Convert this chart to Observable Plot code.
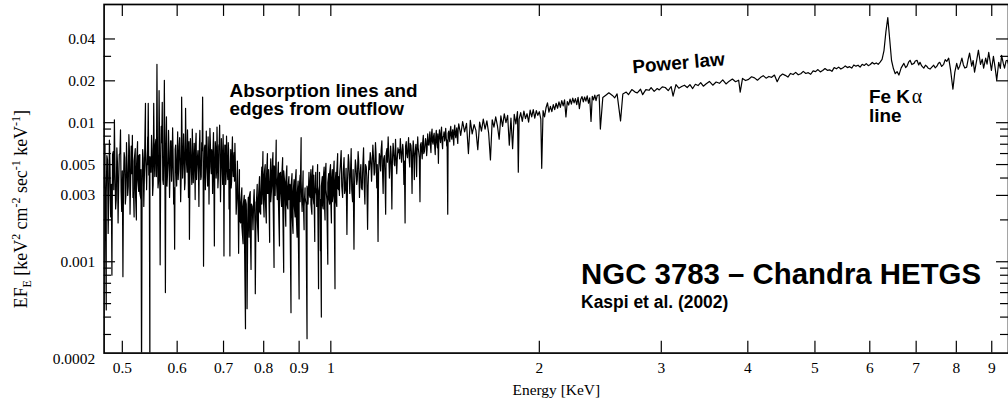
<!DOCTYPE html>
<html><head><meta charset="utf-8">
<script src="https://cdn.jsdelivr.net/npm/d3@7"></script>
<script src="https://cdn.jsdelivr.net/npm/@observablehq/plot@0.6"></script>
<style>
html,body{margin:0;padding:0;background:#fff;overflow:hidden;width:1008px;height:402px}
</style></head><body><div id="chart"></div>
<script>
// Spectrum: [energy keV, EF_E in units of 1e-3 keV^2 cm^-2 s^-1 keV^-1]
const softBand = [
[.471,3.4],[.472,6.9],[.474,0.45],[.475,5.8],[.477,1.6],[.479,7.5],[.481,2.1],[.483,0.8],[.485,6.2],[.487,10.5],[.489,2.4],[.491,6.6],[.493,1.9],[.495,5.9],[.497,8.9],[.499,2.3],[.501,0.78],[.503,6.1],[.505,2.6],[.507,7.2],[.509,3.0],[.511,8.2],[.513,2.2],[.515,6.8],[.517,8.1],[.519,3.1],[.520,2.1],[.522,6.5],[.524,2.0],[.526,7.3],[.528,3.2],[.530,5.9],[.532,2.8],[.533,0.15],[.535,6.4],[.537,2.5],[.539,8.0],[.540,13.8],[.542,3.6],[.544,7.9],[.545,13.8],[.547,4.2],[.548,0.12],
[.549,5.2],[.551,8.1],[.553,3.0],[.555,13.8],[.557,4.1],[.559,7.6],[.561,26.3],[.563,3.4],[.565,17.0],[.567,0.95],[.569,9.4],[.571,14.0],[.573,3.6],[.575,20.2],[.577,0.6],[.579,11.0],[.581,4.2],[.583,8.8],[.585,2.9],[.587,7.4],[.589,3.8],[.591,9.2],[.593,2.6],[.595,1.23],[.597,6.9],[.599,3.5],[.601,8.6],[.603,4.6],[.605,7.8],[.607,2.7],[.609,15.3],[.611,4.0],[.613,8.3],[.615,3.3],[.617,12.7],[.619,5.1],[.621,8.9],[.623,2.9],[.625,1.45],[.627,7.7],[.629,4.4],[.631,9.0],[.633,3.7],[.635,7.1],[.637,2.8],[.639,8.4],[.641,4.9],[.643,6.3],[.645,2.5],[.647,8.8],[.649,3.9],[.651,7.2],[.653,15.3],[.655,0.93],[.657,6.6],[.659,3.3],[.661,8.7],[.663,4.5],[.665,7.9],[.667,2.6],[.669,9.1],[.671,4.8],[.673,6.4],[.675,3.1],[.677,8.5],[.679,1.3],[.681,7.3],[.683,4.0],[.685,9.3],[.687,3.4],[.689,6.8],[.691,9.6],[.693,2.7],[.695,7.7],[.697,4.6],[.699,8.2],[.701,1.1],[.703,6.9],[.705,3.6],[.707,8.0],[.709,4.4],[.711,7.2],[.713,2.4],[.715,1.1],[.717,6.4],[.719,3.8],[.721,7.9],[.723,4.1],[.725,6.1]
];
const softCore = [
[.472,4.6],[.474,3.1],[.476,5.4],[.478,2.9],[.480,4.8],[.482,3.6],[.484,5.9],[.486,3.3],[.488,4.4],[.490,2.8],[.492,5.1],[.494,3.7],[.496,6.0],[.498,3.2],[.500,4.5],[.502,3.9],[.504,5.6],[.506,3.0],[.508,4.9],[.510,3.5],[.512,6.2],[.514,3.8],[.516,4.3],[.518,2.9],[.520,5.3],[.522,3.4],[.524,4.7],[.526,3.9],[.528,5.8],[.530,3.1],[.532,4.6],[.534,3.6],[.536,5.5],[.538,4.0],[.540,6.4],[.542,3.3],[.544,5.0],[.546,4.2],[.548,5.7],
[.550,4.4],[.552,6.3],[.554,3.6],[.556,5.5],[.558,7.0],[.560,4.1],[.562,5.9],[.564,3.8],[.566,6.6],[.568,4.5],[.570,7.2],[.572,3.9],[.574,5.7],[.576,4.8],[.578,6.9],[.580,3.5],[.582,5.2],[.584,6.1],[.586,4.3],[.588,7.4],[.590,4.9],[.592,5.8],[.594,3.4],[.596,6.4],[.598,4.6],[.600,5.5],[.602,3.9],[.604,6.8],[.606,5.1],[.608,4.0],[.610,7.1],[.612,5.3],[.614,6.0],[.616,3.7],[.618,6.5],[.620,4.4],[.622,5.6],[.624,7.3],[.626,4.2],[.628,5.9],[.630,3.6],[.632,6.2],[.634,4.8],[.636,5.4],[.638,7.0],[.640,3.9],[.642,5.7],[.644,4.5],[.646,6.7],[.648,5.0],[.650,4.1],[.652,6.3],[.654,5.2],[.656,3.8],[.658,6.9],[.660,4.7],[.662,5.5],[.664,3.5],[.666,6.1],[.668,4.9],[.670,7.2],[.672,4.3],[.674,5.8],[.676,6.4],[.678,3.7],[.680,5.3],[.682,6.6],[.684,4.5],[.686,5.9],[.688,4.0],[.690,7.1],[.692,5.0],[.694,4.4],[.696,6.2],[.698,3.6],[.700,5.6],[.702,4.8],[.704,6.9],[.706,4.1],[.708,5.4],[.710,3.9],[.712,6.3],[.714,4.6],[.716,5.1],[.718,3.4],[.720,6.0],[.722,4.7],[.724,5.5],[.726,3.8]
];
const edgeBand = [
[.727,7.1],[.730,2.2],[.733,5.3],[.736,1.15],[.738,4.6],[.741,1.9],[.744,3.4],[.747,1.35],[.750,3.0],[.753,0.33],[.755,2.6],[.757,0.46],[.760,2.9],[.762,1.5],[.765,3.2],[.767,0.88],[.770,2.5],[.772,1.7],[.775,3.3],[.778,0.59],[.780,2.7],[.783,3.6],[.786,1.4],[.789,4.1],[.792,2.2],[.795,4.8],
[.798,6.2],[.801,2.1],[.804,5.0],[.807,1.9],[.810,6.0],[.813,3.1],[.816,1.38],[.819,5.5],[.822,3.6],[.825,6.1],[.828,0.91],[.831,4.7],[.834,7.5],[.837,2.8],[.840,5.2],[.843,1.3],[.846,4.4],[.849,2.5],[.852,5.6],[.855,0.84],[.858,3.7],[.861,1.8],[.864,4.9],[.867,2.4],[.870,4.1],
[.873,3.6],[.876,0.43],[.879,4.3],[.882,1.6],[.885,3.9],[.888,2.1],[.891,4.6],[.894,1.5],[.897,3.8],[.900,0.54],[.903,4.2],[.906,7.8],[.909,2.3],[.912,4.5],[.915,1.7],[.918,3.4],[.921,2.6],[.924,0.28],[.927,3.1],[.930,4.4],
[.933,2.9],[.936,4.6],[.939,2.2],[.942,4.9],[.945,2.6],[.948,1.4],[.951,4.4],[.954,3.0],[.957,5.0],[.960,0.64],[.963,3.5],[.966,1.2],[.969,0.4],[.972,4.1],[.975,2.4],[.978,4.8],[.981,2.0],[.984,5.1],[.987,2.8],[.990,0.96],[.993,4.3],[.996,2.6],[.999,5.0],[1.002,1.9],[1.005,4.6],[1.008,3.1],[1.011,5.3],[1.014,0.64],[1.017,4.4],[1.020,2.5],[1.023,6.0],[1.026,3.3]
];
const edgeCore = [
[.729,3.8],[.732,3.0],[.735,2.4],[.738,2.0],[.741,2.7],[.744,1.8],[.747,2.5],[.750,1.9],[.753,2.8],[.756,1.7],[.759,2.3],[.762,2.9],[.765,1.8],[.768,2.6],[.771,2.1],[.774,2.9],[.777,1.9],[.780,2.4],[.783,2.0],[.786,2.8],[.789,2.3],[.792,3.1],[.795,2.6],
[.798,3.4],[.801,4.2],[.804,2.9],[.807,3.8],[.810,3.1],[.813,4.6],[.816,3.3],[.819,2.7],[.822,4.4],[.825,3.5],[.828,4.9],[.831,3.0],[.834,4.1],[.837,3.6],[.840,2.8],[.843,4.3],[.846,3.2],[.849,3.9],[.852,2.9],[.855,4.5],[.858,3.0],[.861,3.7],[.864,2.6],[.867,3.4],[.870,2.8],
[.873,2.5],[.876,3.4],[.879,2.2],[.882,3.1],[.885,2.6],[.888,3.6],[.891,2.3],[.894,3.0],[.897,2.1],[.900,3.3],[.903,2.7],[.906,3.8],[.909,2.4],[.912,3.2],[.915,2.5],[.918,2.9],[.921,2.0],[.924,3.5],[.927,2.6],[.930,3.1],
[.933,3.6],[.936,2.6],[.939,3.9],[.942,3.0],[.945,4.2],[.948,2.7],[.951,3.4],[.954,2.5],[.957,3.8],[.960,3.1],[.963,4.4],[.966,2.8],[.969,3.5],[.972,2.6],[.975,3.9],[.978,3.0],[.981,4.1],[.984,3.3],[.987,2.5],[.990,3.7],[.993,2.9],[.996,4.3],[.999,3.2],[1.002,3.8],[1.005,2.7],[1.008,4.0],[1.011,3.1],[1.014,3.6],[1.017,2.8],[1.020,4.4],[1.023,3.4],[1.026,4.1],[1.029,3.0]
];
const midBand = [
[1.030,4.2],[1.035,6.3],[1.040,2.9],[1.045,5.6],[1.050,3.4],[1.055,1.57],[1.060,5.9],[1.065,3.1],[1.070,6.5],[1.075,2.7],[1.080,1.23],[1.085,5.4],[1.090,3.6],[1.095,6.2],[1.100,2.9],[1.105,5.0],[1.110,3.3],[1.115,6.6],[1.120,2.6],[1.125,4.8],[1.130,1.71],[1.135,5.3],
[1.140,6.1],[1.145,3.8],[1.150,6.9],[1.155,4.2],[1.160,7.2],[1.165,3.4],[1.170,1.4],[1.175,6.0],[1.180,4.5],[1.185,7.4],[1.190,3.1],[1.195,5.8],[1.200,2.2],[1.205,6.5],[1.210,7.9],[1.215,4.0],[1.220,6.8],[1.225,2.4],[1.230,7.1],[1.235,5.0],[1.240,7.6],[1.245,4.3],[1.250,6.6],
[1.255,6.4],[1.260,7.7],[1.265,5.2],[1.270,7.0],[1.275,3.6],[1.280,1.9],[1.285,7.3],[1.290,5.6],[1.295,7.8],[1.300,4.8],[1.305,6.9],[1.310,3.1],[1.315,7.4],[1.320,3.9],[1.325,6.5],[1.330,4.1],[1.335,7.9],[1.340,6.0],[1.345,2.7],[1.350,7.2],[1.355,5.5],[1.360,8.1],[1.365,6.2],[1.370,7.7],[1.375,5.8],[1.380,8.3],
[1.385,6.9],[1.390,8.6],[1.395,6.1],[1.400,9.0],[1.405,7.0],[1.410,8.4],[1.415,5.9],[1.420,8.8],[1.425,6.6],[1.430,5.1],[1.435,8.9],[1.440,7.2],[1.445,9.3],[1.450,6.5],[1.455,8.1],[1.460,7.4],[1.465,9.1],[1.470,6.8],[1.475,2.2],[1.480,8.7],[1.485,7.3],[1.490,9.4],[1.495,7.6],[1.500,8.9],[1.505,6.9],[1.510,9.6],[1.515,7.8],[1.520,9.2],[1.525,7.1],
[1.530,9.8],[1.540,8.1],[1.550,10.2],[1.560,8.6],[1.570,9.9],[1.580,6.0],[1.590,10.4],[1.600,8.3],[1.610,9.7],[1.620,8.8],[1.630,6.4],[1.640,10.1],[1.650,8.7],[1.660,10.6],[1.670,9.0],[1.680,10.3],[1.690,8.4],[1.700,5.4],[1.710,10.5],[1.720,9.3],[1.730,11.0],[1.740,9.5],
[1.750,7.6],[1.760,11.2],[1.770,9.4],[1.780,11.6],[1.790,10.0],[1.800,11.3],[1.810,6.9],[1.820,10.8],[1.830,6.5],[1.840,11.5],[1.850,9.8],[1.860,12.0],[1.865,4.4],[1.870,10.6],[1.880,11.8],[1.890,10.2],[1.900,12.1],[1.910,10.7],[1.920,11.6],[1.930,10.1],[1.940,12.3],[1.950,11.0],[1.960,12.4],[1.970,10.8],[1.980,12.2],[1.990,11.3],
[2.000,12.0],[2.010,10.6],[2.016,4.7],[2.025,12.2],[2.035,11.0],[2.045,12.8],[2.055,13.9],[2.065,11.9],[2.075,13.1],[2.085,12.0],[2.095,13.5],[2.105,12.4],[2.115,13.8],[2.125,12.7],[2.135,14.1],[2.145,12.9],[2.155,14.4],[2.165,13.2],[2.175,14.6],[2.185,11.0],[2.195,14.2],[2.205,13.4],[2.215,14.8],[2.225,13.6],[2.235,15.0],[2.245,13.9],[2.255,14.9],[2.265,13.5],[2.275,15.2],[2.285,12.6],[2.295,14.7],[2.305,15.4],[2.315,14.1],[2.325,15.3],[2.335,14.3],[2.345,15.6],[2.355,13.8],[2.365,15.1],[2.375,10.2],[2.385,15.5],[2.395,14.6],[2.405,15.8],[2.415,14.4],[2.425,15.7]
];
const midCore = [
[1.032,4.9],[1.037,3.5],[1.042,4.4],[1.047,3.1],[1.052,4.7],[1.057,3.8],[1.062,5.2],[1.067,4.0],[1.072,3.3],[1.077,4.6],[1.082,3.6],[1.087,4.9],[1.092,3.9],[1.097,5.3],[1.102,4.2],[1.107,3.4],[1.112,4.8],[1.117,3.7],[1.122,5.0],[1.127,4.1],[1.132,3.5],
[1.137,4.6],[1.142,5.6],[1.147,4.9],[1.152,5.8],[1.157,4.4],[1.162,6.1],[1.167,5.0],[1.172,4.3],[1.177,5.7],[1.182,6.3],[1.187,4.8],[1.192,5.5],[1.197,4.5],[1.202,6.0],[1.207,5.2],[1.212,6.2],[1.217,4.7],[1.222,5.9],[1.227,5.1],[1.232,6.4],[1.237,4.9],[1.242,5.8],[1.247,5.4],[1.252,6.1],
[1.257,5.5],[1.262,6.6],[1.267,5.9],[1.272,6.4],[1.277,5.3],[1.282,6.8],[1.287,6.0],[1.292,6.5],[1.297,5.7],[1.302,7.1],[1.307,6.2],[1.312,5.5],[1.317,6.7],[1.322,5.8],[1.327,7.0],[1.332,6.1],[1.337,6.6],[1.342,5.6],[1.347,6.9],[1.352,6.3],[1.357,7.2],[1.362,6.0],[1.367,6.8],[1.372,7.4],[1.377,6.4],[1.382,7.0],
[1.387,7.6],[1.392,7.0],[1.397,8.1],[1.402,7.3],[1.407,8.0],[1.412,6.9],[1.417,7.8],[1.422,7.2],[1.427,8.3],[1.432,7.5],[1.437,7.9],[1.442,8.4],[1.447,7.4],[1.452,7.9],[1.457,8.6],[1.462,7.7],[1.467,8.2],[1.472,7.5],[1.477,8.4],[1.482,7.9],[1.487,8.7],[1.492,8.1],[1.497,8.5],[1.502,7.8],[1.507,8.8],[1.512,8.3],[1.517,8.6],[1.522,8.0],[1.527,8.9]
];
const hardBand = [
[2.44,15.9],[2.45,9.0],[2.47,15.2],[2.50,15.9],[2.52,16.4],[2.55,15.7],[2.57,15.1],[2.59,16.1],[2.62,10.3],[2.64,16.1],[2.67,16.6],[2.69,15.9],[2.72,17.3],[2.75,16.6],[2.77,16.4],[2.80,17.4],[2.82,15.9],[2.85,17.3],[2.88,17.1],[2.90,17.9],[2.93,16.8],[2.96,17.6],[2.98,17.2],[3.01,18.1],[3.04,17.9],[3.07,17.0],[3.10,18.2],[3.12,15.5],[3.15,18.8],[3.18,17.7],[3.21,18.2],[3.24,18.6],[3.27,17.9],[3.30,18.8],[3.33,17.6],[3.36,18.9],[3.39,18.5],[3.42,19.4],[3.45,18.3],[3.48,19.0],
[3.52,19.8],[3.56,18.6],[3.60,19.6],[3.64,19.2],[3.68,20.3],[3.72,19.0],[3.76,19.9],[3.80,20.6],[3.84,19.7],[3.88,20.2],[3.90,16.6],[3.93,20.8],[3.97,20.1],
[4.01,20.5],[4.05,21.4],[4.09,21.0],[4.13,20.2],[4.17,21.1],[4.21,21.8],[4.25,20.9],[4.29,21.5],[4.33,21.2],[4.37,22.0],[4.41,19.7],[4.45,21.6],[4.49,22.4],[4.53,21.9],[4.57,21.3],[4.61,22.6],[4.65,22.2],[4.69,23.0],[4.73,22.1],[4.77,22.5],[4.81,23.4],[4.85,22.6],[4.89,22.9],[4.93,22.3],[4.97,23.6],[5.01,23.3],[5.05,24.1],[5.09,23.2],[5.13,23.7],[5.17,24.5],[5.21,23.8],[5.25,24.0],[5.29,23.4],[5.33,24.9],[5.37,24.4],[5.41,25.1],[5.45,24.3],[5.49,24.8],[5.53,25.6],[5.57,24.9],[5.61,25.3],[5.65,24.7],[5.69,26.0],[5.73,25.5],[5.77,25.9],[5.81,25.1],[5.85,26.3],[5.89,25.8],[5.93,26.6],[5.97,25.7],[6.01,26.2],[6.05,27.1],[6.09,26.4],[6.13,26.9],[6.17,26.3]
];
const ironLine = [
[6.21,27.3],[6.25,28.5],[6.29,33],[6.33,45],[6.37,57],[6.41,40],[6.45,28],[6.49,24.5],[6.53,22.5],[6.57,23.3]
];
const topBand = [
[6.61,22.0],[6.66,24.8],[6.72,26.7],[6.76,24.9],[6.79,25.5],[6.83,27.4],[6.86,28.1],[6.90,26.2],[6.95,26.7],[6.98,27.8],[7.02,28.1],[7.06,26.0],[7.09,27.2],[7.13,25.6],[7.18,24.7],[7.22,25.9],[7.25,25.5],[7.29,24.6],[7.33,24.3],[7.38,25.2],[7.42,25.9],[7.46,24.8],[7.50,25.5],[7.54,26.8],[7.57,27.2],[7.62,25.4],[7.67,26.3],[7.71,28.4],[7.75,27.6],[7.80,29.1],[7.85,23.8],[7.91,17.4],[7.96,23.1],[8.01,26.7],[8.05,24.2],[8.09,25.5],[8.15,29.1],[8.19,26.0],[8.23,24.7],[8.28,25.1],[8.32,28.5],[8.36,31.6],[8.42,25.5],[8.46,28.0],[8.50,23.1],[8.56,28.1],[8.61,33.2],[8.67,26.3],[8.72,28.6],[8.76,24.7],[8.82,29.1],[8.86,26.4],[8.91,32.0],[8.99,23.8],[9.05,30.0],[9.10,25.0],[9.15,20.2],[9.21,27.2],[9.26,24.6],[9.30,30.5],[9.35,26.8],[9.39,24.7],[9.44,27.9],[9.48,28.1],[9.53,25.6]
];

// Axis ticks and labels
const xTicks = [0.5,0.6,0.7,0.8,0.9,1,2,3,4,5,6,7,8,9];
const xTickLabels = ["0.5","0.6","0.7","0.8","0.9","1","2","3","4","5","6","7","8","9"];
const yMajor = [0.04,0.02,0.01,0.005,0.003,0.001];
const yMinor = [0.03,0.009,0.008,0.007,0.006,0.004,0.002,0.0009,0.0008,0.0007,0.0006,0.0005,0.0004,0.0003];
const yLabelValues = [0.04,0.02,0.01,0.005,0.003,0.001,0.0002];
const yTickLabels = ["0.04","0.02","0.01","0.005","0.003","0.001","0.0002"];

// Annotations (anchored at text baseline start, in data units)
const notes = [
  {E: 0.714, f: 0.01528, text: "Absorption lines and"},
  {E: 0.714, f: 0.01136, text: "edges from outflow"},
  {E: 5.985, f: 0.01377, text: "Fe K"},
  {E: 5.985, f: 0.01017, text: "line"}
];
const alphaNote = [{E: 6.90, f: 0.01377, text: "α"}];
const powerNote = [{E: 2.731, f: 0.0227, text: "Power law"}];
const titleNote = [{E: 2.298, f: 0.000688, text: "NGC 3783 – Chandra HETGS"}];
const refNote = [{E: 2.298, f: 0.000463, text: "Kaspi et al. (2002)"}];

const spectrum = [...softBand, ...softCore, ...edgeBand, ...edgeCore, ...midBand, ...midCore, ...hardBand, ...ironLine, ...topBand]
  .map(([E, f]) => ({E, f: f / 1000}))
  .sort((a, b) => a.E - b.E);

const W = 1012, H = 402, mL = 104, mT = 4, mB = 48;
const innerW = W - mL, innerH = H - mT - mB;
const sans = "'Liberation Sans', Arial, Helvetica, sans-serif";
const serif = "'Liberation Serif', 'Times New Roman', serif";

const plot = Plot.plot({
  width: W, height: H,
  marginLeft: mL, marginRight: 0, marginTop: mT, marginBottom: mB,
  x: {type: "log", domain: [0.4706, 9.515], axis: null},
  y: {type: "log", domain: [0.0002204, 0.0708], axis: null},
  style: {background: "white", fontFamily: serif, fontSize: "15.5px", color: "black", overflow: "visible"},
  marks: [
    Plot.line(spectrum, {x: "E", y: "f", stroke: "black", strokeWidth: 1.2, clip: true}),
    Plot.frame({stroke: "black", strokeWidth: 1.7}),
    Plot.tickX(xTicks, {x: d => d, insetTop: innerH - 12, stroke: "black", strokeWidth: 1.2}),
    Plot.tickX(xTicks, {x: d => d, insetBottom: innerH - 12, stroke: "black", strokeWidth: 1.2}),
    Plot.tickY(yMajor, {y: d => d, insetRight: innerW - 11.5, stroke: "black", strokeWidth: 1.2}),
    Plot.tickY(yMinor, {y: d => d, insetRight: innerW - 7.5, stroke: "black", strokeWidth: 1.2}),
    Plot.tickY(yMajor, {y: d => d, insetLeft: innerW - 12, stroke: "black", strokeWidth: 1.2}),
    Plot.tickY(yMinor, {y: d => d, insetLeft: innerW - 8, stroke: "black", strokeWidth: 1.2}),
    Plot.text(xTicks, {x: d => d, text: (d, i) => xTickLabels[i], frameAnchor: "bottom", dy: 20, fill: "black", fontFamily: serif, fontSize: 15.5}),
    Plot.text(yLabelValues, {y: d => d, text: (d, i) => yTickLabels[i], frameAnchor: "left", textAnchor: "end", dx: -9, fill: "black", fontFamily: serif, fontSize: 15.5}),
    Plot.text(["Energy [KeV]"], {text: d => d, frameAnchor: "bottom", lineAnchor: "bottom", dy: 42.5, fill: "black", fontFamily: serif, fontSize: 15.5}),
    Plot.text(notes, {x: "E", y: "f", text: "text", textAnchor: "start", lineAnchor: "bottom", fill: "black", fontFamily: sans, fontWeight: "bold", fontSize: 19}),
    Plot.text(alphaNote, {x: "E", y: "f", text: "text", textAnchor: "start", lineAnchor: "bottom", fill: "black", fontFamily: serif, fontSize: 20}),
    Plot.text(powerNote, {x: "E", y: "f", text: "text", textAnchor: "start", lineAnchor: "bottom", rotate: -5, fill: "black", fontFamily: sans, fontWeight: "bold", fontSize: 19}),
    Plot.text(titleNote, {x: "E", y: "f", text: "text", textAnchor: "start", lineAnchor: "bottom", fill: "black", fontFamily: sans, fontWeight: "bold", fontSize: 29.5}),
    Plot.text(refNote, {x: "E", y: "f", text: "text", textAnchor: "start", lineAnchor: "bottom", fill: "black", fontFamily: sans, fontWeight: "bold", fontSize: 17.5})
  ]
});

// Y-axis title with sub/superscripts
const svg = d3.select(plot);
const lab = svg.append("text")
  .attr("transform", "translate(27,210) rotate(-90)")
  .attr("text-anchor", "middle")
  .attr("font-family", serif)
  .attr("font-size", 18)
  .attr("fill", "black");
const parts = [
  ["EF", 0, 18], ["E", 4, 12], [" [keV", -4, 18], ["2", -7, 12], [" cm", 7, 18], ["-2", -7, 12],
  [" sec", 7, 18], ["-1", -7, 12], [" keV", 7, 18], ["-1", -7, 12], ["]", 7, 18]
];
parts.forEach(([t, dy, fs]) => lab.append("tspan").attr("dy", dy).attr("font-size", fs).text(t));

document.getElementById("chart").appendChild(plot);
</script></body></html>
